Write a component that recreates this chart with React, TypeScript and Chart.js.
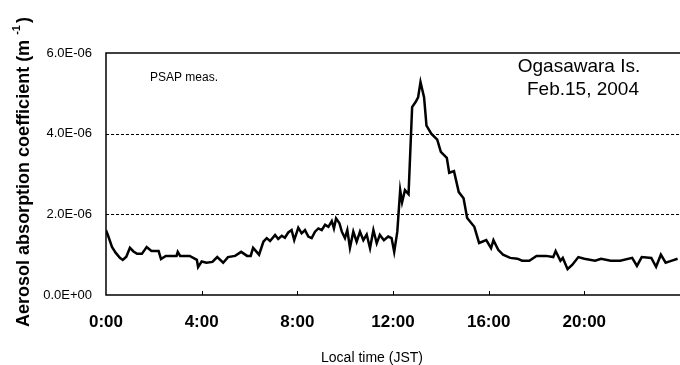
import React, { useEffect, useRef } from "react";
import { Chart, registerables } from "chart.js";

Chart.register(...registerables);

// Local time (hours, JST) of each PSAP sample
const hours: number[] = [
  0.0, 0.1, 0.25, 0.4, 0.58, 0.7, 0.85, 1.0, 1.15, 1.3, 1.5, 1.7, 1.9, 2.2, 2.3, 2.5, 2.95, 3.0, 3.1, 3.5,
  3.8, 3.85, 4.0, 4.2, 4.45, 4.65, 4.9, 5.1, 5.4, 5.65, 5.9, 6.05, 6.15, 6.4,
  6.58, 6.72, 6.86, 7.07, 7.2, 7.35, 7.48, 7.62, 7.76, 7.87, 8.04, 8.18, 8.32, 8.46, 8.6, 8.74, 8.88, 9.02,
  9.16, 9.3, 9.44, 9.53, 9.62, 9.76, 9.86, 9.99, 10.09, 10.2, 10.34, 10.48, 10.62, 10.76, 10.9, 11.04, 11.18, 11.32,
  11.45, 11.62, 11.8, 11.94, 12.05, 12.18, 12.3, 12.38, 12.5, 12.65,
  12.8, 12.95, 13.05, 13.15, 13.3, 13.4, 13.6, 13.85, 14.0, 14.25, 14.35,
  14.55, 14.75, 14.95, 15.1, 15.4, 15.6, 15.9, 16.1, 16.2, 16.4, 16.6, 16.9, 17.2, 17.4, 17.7, 18.0, 18.4, 18.7, 18.8, 19.0,
  19.1, 19.3, 19.5, 19.75, 20.0, 20.45, 20.7, 21.1, 21.5, 22.0, 22.2, 22.4, 22.8, 23.0, 23.2, 23.4, 23.6, 23.9,
];

// Aerosol absorption coefficient, in units of 1e-6 m^-1
const absorption: number[] = [
  1.61, 1.45, 1.19, 1.05, 0.92, 0.87, 0.95, 1.17, 1.08, 1.02, 1.02, 1.19, 1.09, 1.09, 0.89, 0.97, 0.97, 1.07, 0.97, 0.97,
  0.87, 0.69, 0.83, 0.8, 0.82, 0.94, 0.8, 0.94, 0.97, 1.07, 0.97, 0.97, 1.17, 1.0,
  1.32, 1.41, 1.34, 1.49, 1.39, 1.47, 1.42, 1.55, 1.61, 1.36, 1.67, 1.53, 1.61, 1.45, 1.41, 1.57, 1.65, 1.61,
  1.74, 1.69, 1.83, 1.65, 1.9, 1.78, 1.57, 1.41, 1.61, 1.17, 1.57, 1.32, 1.57, 1.36, 1.5, 1.16, 1.61, 1.28,
  1.49, 1.36, 1.45, 1.41, 1.07, 1.57, 2.6, 2.3, 2.6, 2.5,
  4.66, 4.79, 4.9, 5.28, 4.9, 4.2, 4.0, 3.85, 3.55, 3.4, 3.03,
  3.07, 2.55, 2.4, 1.91, 1.69, 1.29, 1.36, 1.16, 1.36, 1.12, 1.0, 0.92, 0.9, 0.85, 0.85, 0.97, 0.97, 0.94, 1.09, 0.85,
  0.92, 0.64, 0.75, 0.94, 0.9, 0.85, 0.9, 0.85, 0.85, 0.92, 0.72, 0.94, 0.92, 0.7, 1.0, 0.8, 0.84, 0.9,
];

const timeTicks: number[] = [0, 4, 8, 12, 16, 20];
const yTicks: number[] = [0, 2e-6, 4e-6, 6e-6];
const dashedLevels: number[] = [2e-6, 4e-6];
const yMax = 6e-6;

const FONT = "'Liberation Sans', Arial, sans-serif";

function sci(v: number): string {
  if (Math.abs(v) < 1e-12) return "0.0E+00";
  const [m, e] = v.toExponential(1).split("e");
  const n = parseInt(e, 10);
  const s = n < 0 ? "-" : "+";
  return `${m}E${s}${String(Math.abs(n)).padStart(2, "0")}`;
}

const framePlugin = {
  id: "frame",
  beforeDatasetsDraw(chart: any) {
    const { ctx, chartArea: a, scales } = chart;
    const y = scales.y;
    const x = scales.x;
    ctx.save();
    // dashed reference levels
    ctx.strokeStyle = "#000";
    ctx.lineWidth = 1;
    ctx.setLineDash([3, 2]);
    dashedLevels.forEach((lv) => {
      const py = Math.round(y.getPixelForValue(lv)) + 0.5;
      ctx.beginPath();
      ctx.moveTo(a.left, py);
      ctx.lineTo(a.right, py);
      ctx.stroke();
    });
    ctx.setLineDash([]);
    // frame: top, left, bottom
    ctx.lineWidth = 1.5;
    ctx.beginPath();
    ctx.moveTo(a.right, a.top);
    ctx.lineTo(a.left, a.top);
    ctx.lineTo(a.left, a.bottom);
    ctx.lineTo(a.right, a.bottom);
    ctx.stroke();
    // inward tick marks on the time axis
    ctx.lineWidth = 1;
    timeTicks.forEach((t) => {
      if (t === 0) return;
      const px = Math.round(x.getPixelForValue(t)) + 0.5;
      ctx.beginPath();
      ctx.moveTo(px, a.bottom);
      ctx.lineTo(px, a.bottom - 4);
      ctx.stroke();
    });
    ctx.restore();
  },
  afterDraw(chart: any) {
    const { ctx } = chart;
    ctx.save();
    ctx.fillStyle = "#000";
    ctx.textBaseline = "middle";

    // y-axis title with superscript unit
    ctx.save();
    ctx.translate(24, 172);
    ctx.rotate(-Math.PI / 2);
    const main = "Aerosol absorption coefficient (m";
    const sup = "-1";
    const close = ")";
    ctx.font = `bold 18px ${FONT}`;
    const wMain = ctx.measureText(main + " ").width;
    const wClose = ctx.measureText(close).width;
    ctx.font = `bold 11px ${FONT}`;
    const wSup = ctx.measureText(sup).width;
    const total = wMain + wSup + 2 + wClose;
    let cx = -total / 2;
    ctx.textAlign = "left";
    ctx.font = `bold 18px ${FONT}`;
    ctx.fillText(main, cx, 0);
    cx += wMain;
    ctx.font = `bold 11px ${FONT}`;
    ctx.fillText(sup, cx, -7);
    cx += wSup + 2;
    ctx.font = `bold 18px ${FONT}`;
    ctx.fillText(close, cx, 0);
    ctx.restore();

    // x-axis title
    ctx.textAlign = "center";
    ctx.font = `14px ${FONT}`;
    ctx.fillText("Local time (JST)", 372, 358);

    // annotations inside the plot
    ctx.font = `19px ${FONT}`;
    ctx.fillText("Ogasawara Is.", 579, 67);
    ctx.fillText("Feb.15, 2004", 583, 90);
    ctx.textAlign = "left";
    ctx.font = `12px ${FONT}`;
    ctx.fillText("PSAP meas.", 150, 78);
    ctx.restore();
  },
};

export default function App() {
  const canvasRef = useRef<HTMLCanvasElement | null>(null);

  useEffect(() => {
    document.body.style.margin = "0";
    const canvas = canvasRef.current;
    if (!canvas) return;
    const points = hours.map((h, i) => ({ x: h, y: absorption[i] * 1e-6 }));
    const chart = new Chart(canvas, {
      type: "line",
      data: {
        datasets: [
          {
            data: points,
            borderColor: "#000",
            borderWidth: 2.5,
            pointRadius: 0,
            tension: 0,
            fill: false,
            borderJoinStyle: "miter",
          },
        ],
      },
      options: {
        animation: false,
        responsive: false,
        devicePixelRatio: 1,
        layout: { padding: { top: 53, right: 0, bottom: 0, left: 0 } },
        plugins: { legend: { display: false }, tooltip: { enabled: false }, title: { display: false } },
        scales: {
          x: {
            type: "linear",
            min: 0,
            max: 24,
            afterFit: (s: any) => {
              s.height = 70;
            },
            afterBuildTicks: (s: any) => {
              s.ticks = timeTicks.map((v) => ({ value: v }));
            },
            grid: { display: false, drawTicks: false },
            border: { display: false },
            ticks: {
              color: "#000",
              font: { family: FONT, size: 17, weight: "bold" },
              padding: 17,
              maxRotation: 0,
              autoSkip: false,
              callback: (v: any) => `${v}:00`,
            },
          },
          y: {
            min: 0,
            max: yMax,
            afterFit: (s: any) => {
              s.width = 106;
            },
            afterBuildTicks: (s: any) => {
              s.ticks = yTicks.map((v) => ({ value: v }));
            },
            grid: { display: false, drawTicks: false },
            border: { display: false },
            ticks: {
              color: "#000",
              font: { family: FONT, size: 13 },
              padding: 14,
              callback: (v: any) => sci(Number(v)),
            },
          },
        },
      },
      plugins: [framePlugin],
    });
    return () => chart.destroy();
  }, []);

  return (
    <div style={{ width: 680, height: 365, background: "#fff" }}>
      <canvas ref={canvasRef} width={680} height={365} />
    </div>
  );
}
